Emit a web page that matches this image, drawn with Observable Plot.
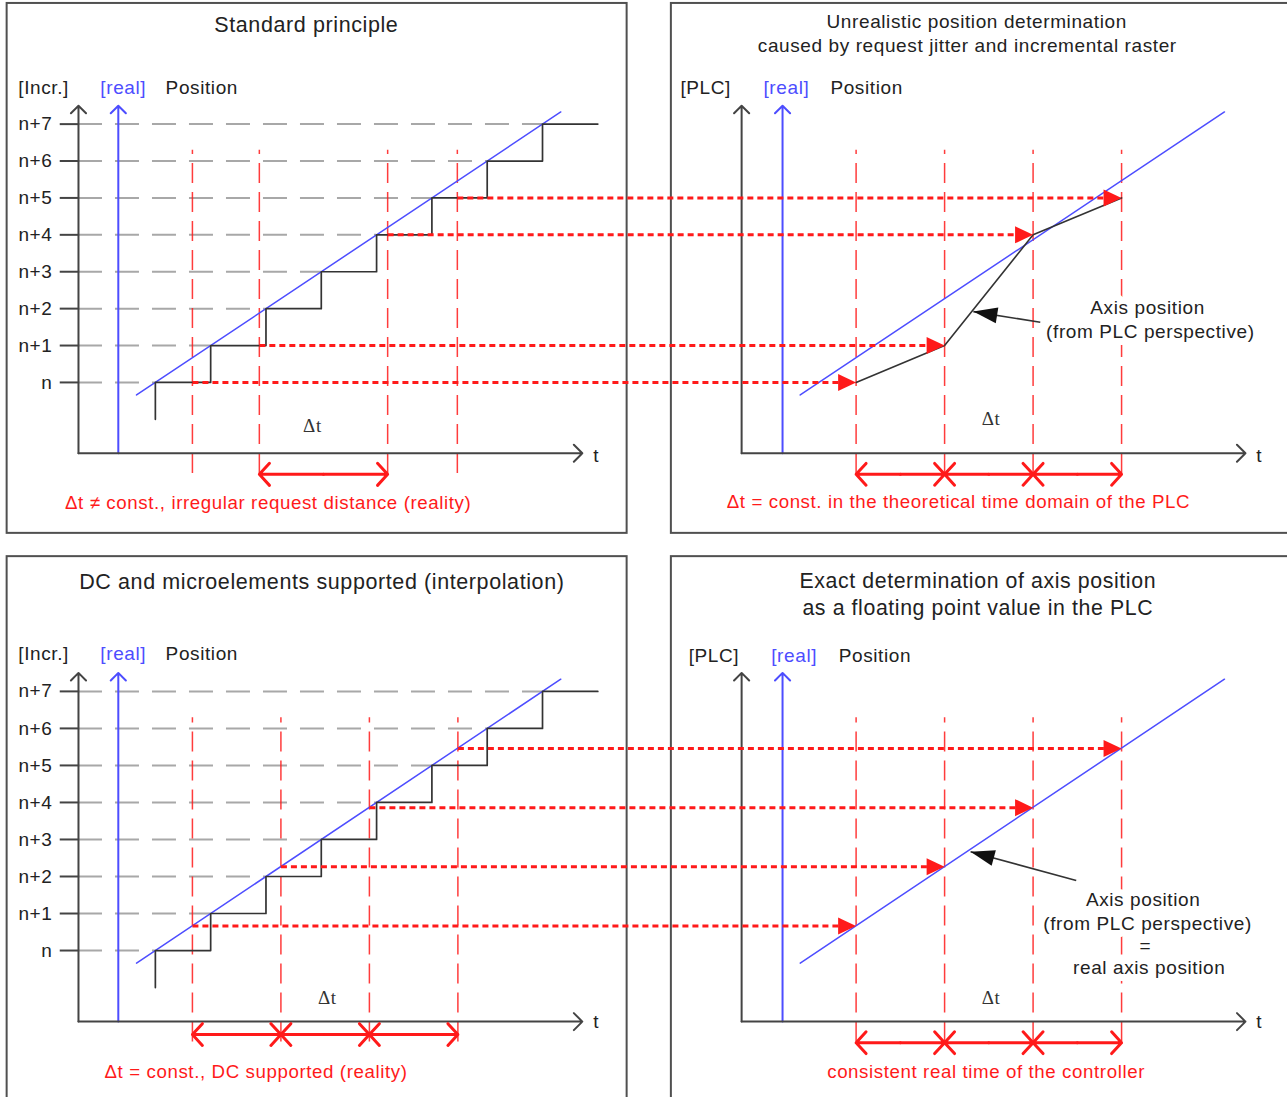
<!DOCTYPE html>
<html>
<head>
<meta charset="utf-8">
<script src="https://cdn.jsdelivr.net/npm/d3@7"></script>
<script src="https://cdn.jsdelivr.net/npm/@observablehq/plot@0.6"></script>
<style>
  body { margin: 0; background: #fff; }
  #chart svg { display: block; }
</style>
</head>
<body>
<div id="chart"></div>
<script>
// ---------- data (diagram units: t = time step, L = position level) ----------
const levels = [0, 1, 2, 3, 4, 5, 6, 7];
const levelLabels = ["n", "n+1", "n+2", "n+3", "n+4", "n+5", "n+6", "n+7"];
const stepRiseT = [0, 1, 2, 3, 4, 5, 6, 7];      // time at which the incremental step reaches each level
const stepBaseLevel = -1;
const stepEndT = 8;

const realLineLeft = [{t: -0.34, L: -0.34}, {t: 7.33, L: 7.33}];
const realLineRight = [{t: 11.66, L: -0.34}, {t: 19.33, L: 7.33}];

const requestTimesTop = [0.67, 1.88, 4.20, 5.46];      // irregular request instants
const plcValuesTop = [0, 1, 4, 5];                     // incremental raster read at those instants
const requestTimesBottom = [0.67, 2.27, 3.87, 5.47];   // DC: constant request distance
const plcValuesBottom = [0.66, 2.26, 3.86, 5.46];      // interpolated (real) positions
const plcTimes = [12.67, 14.27, 15.87, 17.47];         // PLC time domain (constant Δt)

const annotTop = {tail: {t: 16.0, L: 1.63}, head: {t: 14.79, L: 1.92}};
const annotBottom = {tail: {t: 16.65, L: 1.89}, head: {t: 14.74, L: 2.67}};

const axisLeftT = -1.39, realAxisLeftT = -0.67, tickStartT = -1.72, xAxisEndLeft = 7.72;
const axisRightT = 10.6, realAxisRightT = 11.34, xAxisEndRight = 19.71;
const axisBaseL = -1.92, axisTopL = 7.5;
const requestLineL = [-2.47, 6.29];

// ---------- layout ----------
const W = 1287;
const xDomain = [-2.80, 20.47];
const BLUE = "#4d4dff", RED = "#ff1a1a", DARK = "#444", GRAY = "#a8a8a8";
const SANS = "'Liberation Sans', Arial, sans-serif";

function headSymbol(ux, uy, len, half) {
  return {
    draw(ctx) {
      const bx = -ux * len, by = -uy * len;
      const px = -uy * half, py = ux * half;
      ctx.moveTo(0, 0);
      ctx.lineTo(bx + px, by + py);
      ctx.lineTo(bx - px, by - py);
      ctx.closePath();
    }
  };
}

function pairs(arr) {
  const out = [];
  for (let i = 0; i < arr.length - 1; i++) out.push([arr[i], arr[i + 1]]);
  return out;
}

function doubleArrows(intervals, L) {
  const segs = [];
  intervals.forEach(([a, b]) => {
    const m = (a + b) / 2;
    segs.push({x1: m, x2: a, L}, {x1: m, x2: b, L});
  });
  return Plot.arrow(segs, {x1: "x1", x2: "x2", y1: "L", y2: "L", stroke: RED, strokeWidth: 3, headLength: 7.5, headAngle: 95});
}

function textMark(items, opts) {
  return Plot.text(items, {x: "t", y: "L", text: "text", fontFamily: SANS, ...opts});
}

function rowPlot(cfg) {
  const kx = W / (xDomain[1] - xDomain[0]);
  const ky = cfg.height / (cfg.yDomain[1] - cfg.yDomain[0]);
  const dxA = (cfg.annot.head.t - cfg.annot.tail.t) * kx;
  const dyA = -(cfg.annot.head.L - cfg.annot.tail.L) * ky;
  const nA = Math.hypot(dxA, dyA);

  const steps = [{t: stepRiseT[0], L: stepBaseLevel}];
  stepRiseT.forEach((t, i) => {
    steps.push({t, L: levels[i]});
    steps.push({t: i + 1 < stepRiseT.length ? stepRiseT[i + 1] : stepEndT, L: levels[i]});
  });

  const dotted = cfg.requestTimes.map((t, i) => ({t1: t, t2: cfg.plcTimes[i], L: cfg.values[i]}));
  const plcPts = cfg.plcTimes.map((t, i) => ({t, L: cfg.values[i]}));
  const vlines = [...cfg.requestTimes, ...cfg.plcTimes];

  return Plot.plot({
    width: W,
    height: cfg.height,
    marginTop: 0, marginRight: 0, marginBottom: 0, marginLeft: 0,
    x: {domain: xDomain, axis: null},
    y: {domain: cfg.yDomain, axis: null},
    style: {background: "white", overflow: "hidden", letterSpacing: "0.6px"},
    marks: [
      // panel frames
      Plot.rect(cfg.frames, {x1: "x1", x2: "x2", y1: "y1", y2: "y2", fill: "none", stroke: "#505050", strokeWidth: 2}),
      // gray dashed level guides
      Plot.ruleY(levels, {y: d => d, x1: () => axisLeftT, x2: d => stepRiseT[d], stroke: GRAY, strokeWidth: 2, strokeDasharray: "24,13"}),
      Plot.ruleY(levels, {y: d => d, x1: () => tickStartT, x2: () => axisLeftT, stroke: DARK, strokeWidth: 2}),
      Plot.text(levels, {x: () => -1.86, y: d => d, text: d => levelLabels[d], textAnchor: "end", fontSize: 19, fill: "#222", fontFamily: SANS}),
      // red dashed request lines
      Plot.ruleX(vlines, {x: d => d, y1: () => requestLineL[0], y2: () => requestLineL[1], stroke: RED, strokeOpacity: 0.85, strokeWidth: 1.5, strokeDasharray: "20,9"}),
      // axes
      Plot.arrow([axisLeftT, axisRightT], {x1: d => d, x2: d => d, y1: () => axisBaseL, y2: () => axisTopL, stroke: DARK, strokeWidth: 2, headLength: 8, headAngle: 90}),
      Plot.arrow([realAxisLeftT, realAxisRightT], {x1: d => d, x2: d => d, y1: () => axisBaseL, y2: () => axisTopL, stroke: BLUE, strokeWidth: 2, headLength: 8, headAngle: 90}),
      Plot.arrow([[axisLeftT, xAxisEndLeft], [axisRightT, xAxisEndRight]], {x1: d => d[0], x2: d => d[1], y1: () => axisBaseL, y2: () => axisBaseL, stroke: DARK, strokeWidth: 2, headLength: 9, headAngle: 90}),
      // real position lines
      Plot.line(realLineLeft, {x: "t", y: "L", stroke: BLUE, strokeWidth: 1.5}),
      Plot.line(realLineRight, {x: "t", y: "L", stroke: BLUE, strokeWidth: 1.5}),
      // incremental steps
      Plot.line(steps, {x: "t", y: "L", stroke: "#333", strokeWidth: 1.7}),
      // PLC position polyline (top only)
      cfg.plcLine ? Plot.line(plcPts, {x: "t", y: "L", stroke: "#333", strokeWidth: 1.6}) : null,
      // red dotted transfer lines + heads
      Plot.link(dotted, {x1: "t1", x2: d => d.t2 - 0.2, y1: "L", y2: "L", stroke: RED, strokeWidth: 3, strokeDasharray: "6,4"}),
      Plot.dot(plcPts, {x: "t", y: "L", symbol: headSymbol(1, 0, 18, 8.5), fill: RED, stroke: "none"}),
      // Δt double arrows
      doubleArrows(cfg.leftIntervals, cfg.leftArrowL),
      doubleArrows(pairs(cfg.plcTimes), cfg.rightArrowL),
      // annotation arrow
      Plot.link([cfg.annot], {x1: d => d.tail.t, y1: d => d.tail.L, x2: d => d.head.t, y2: d => d.head.L, stroke: "#333", strokeWidth: 1.6}),
      Plot.dot([cfg.annot.head], {x: "t", y: "L", symbol: headSymbol(dxA / nA, dyA / nA, 24, 8), fill: "#111", stroke: "none"}),
      // texts
      textMark(cfg.bigTitles, {fontSize: cfg.titleSize, fill: "#222"}),
      textMark(cfg.smallTitles, {fontSize: cfg.subTitleSize, fill: "#222"}),
      textMark(cfg.labels, {fontSize: 19, fill: "#222"}),
      textMark(cfg.annotLabels, {fontSize: 19, fill: "#222", stroke: "white", strokeWidth: 14}),
      textMark(cfg.blueLabels, {fontSize: 19, fill: BLUE}),
      textMark(cfg.deltaLabels, {fontSize: 19, fill: "#333", fontFamily: "'Liberation Serif', 'Times New Roman', serif"}),
      textMark(cfg.captions, {fontSize: 18.7, fill: RED})
    ].filter(Boolean)
  });
}

const topRow = rowPlot({
  height: 548,
  yDomain: [-4.5, 10.35],
  frames: [{x1: -2.68, x2: 8.53, y1: -4.09, y2: 10.27}, {x1: 9.33, x2: 21.5, y1: -4.09, y2: 10.27}],
  requestTimes: requestTimesTop,
  values: plcValuesTop,
  plcTimes,
  plcLine: true,
  leftIntervals: [[requestTimesTop[1], requestTimesTop[2]]],
  leftArrowL: -2.49,
  rightArrowL: -2.49,
  annot: annotTop,
  titleSize: 21.5,
  subTitleSize: 19,
  bigTitles: [{text: "Standard principle", t: 2.73, L: 9.67}],
  smallTitles: [
    {text: "Unrealistic position determination", t: 14.85, L: 9.78},
    {text: "caused by request jitter and incremental raster", t: 14.68, L: 9.11}
  ],
  labels: [
    {text: "[Incr.]", t: -2.02, L: 7.99}, {text: "Position", t: 0.84, L: 7.99},
    {text: "[PLC]", t: 9.95, L: 7.99}, {text: "Position", t: 12.86, L: 7.99},
    {text: "t", t: 7.97, L: -1.98}, {text: "t", t: 19.96, L: -1.98}
  ],
  annotLabels: [
    {text: "Axis position", t: 17.94, L: 2.03}, {text: "(from PLC perspective)", t: 17.99, L: 1.36}
  ],
  blueLabels: [{text: "[real]", t: -0.58, L: 7.99}, {text: "[real]", t: 11.41, L: 7.99}],
  deltaLabels: [{text: "Δt", t: 2.84, L: -1.19}, {text: "Δt", t: 15.11, L: -0.98}],
  captions: [
    {text: "Δt ≠ const., irregular request distance (reality)", t: 2.04, L: -3.28},
    {text: "Δt = const. in the theoretical time domain of the PLC", t: 14.52, L: -3.25}
  ]
});

const bottomRow = rowPlot({
  height: 549,
  yDomain: [-3.97, 10.86],
  frames: [{x1: -2.68, x2: 8.53, y1: -5, y2: 10.64}, {x1: 9.33, x2: 21.5, y1: -5, y2: 10.64}],
  requestTimes: requestTimesBottom,
  values: plcValuesBottom,
  plcTimes,
  plcLine: false,
  leftIntervals: pairs(requestTimesBottom),
  leftArrowL: -2.27,
  rightArrowL: -2.49,
  annot: annotBottom,
  titleSize: 21.5,
  subTitleSize: 21.3,
  bigTitles: [{text: "DC and microelements supported (interpolation)", t: 3.01, L: 9.94}],
  smallTitles: [
    {text: "Exact determination of axis position", t: 14.87, L: 9.99},
    {text: "as a floating point value in the PLC", t: 14.87, L: 9.24}
  ],
  labels: [
    {text: "[Incr.]", t: -2.02, L: 8.02}, {text: "Position", t: 0.84, L: 8.02},
    {text: "[PLC]", t: 10.1, L: 7.97}, {text: "Position", t: 13.01, L: 7.97},
    {text: "t", t: 7.97, L: -1.94}, {text: "t", t: 19.96, L: -1.94}
  ],
  annotLabels: [
    {text: "Axis position", t: 17.86, L: 1.38}, {text: "(from PLC perspective)", t: 17.94, L: 0.73},
    {text: "=", t: 17.9, L: 0.135}, {text: "real axis position", t: 17.97, L: -0.46}
  ],
  blueLabels: [{text: "[real]", t: -0.58, L: 8.02}, {text: "[real]", t: 11.55, L: 7.97}],
  deltaLabels: [{text: "Δt", t: 3.11, L: -1.27}, {text: "Δt", t: 15.11, L: -1.27}],
  captions: [
    {text: "Δt = const., DC supported (reality)", t: 1.82, L: -3.27},
    {text: "consistent real time of the controller", t: 15.02, L: -3.27}
  ]
});

const chart = document.getElementById("chart");
chart.appendChild(topRow);
chart.appendChild(bottomRow);
</script>
</body>
</html>
